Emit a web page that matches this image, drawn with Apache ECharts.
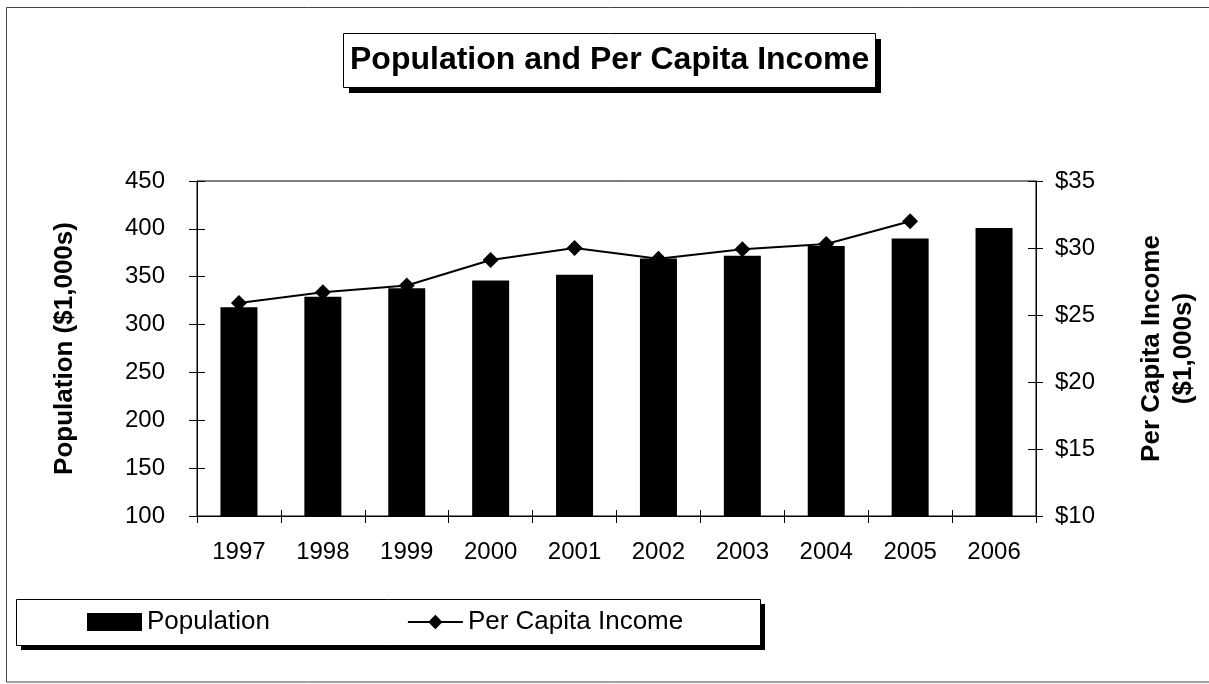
<!DOCTYPE html>
<html>
<head>
<meta charset="utf-8">
<script src="https://cdn.jsdelivr.net/npm/echarts@6/dist/echarts.min.js"></script>
<style>
html,body{margin:0;padding:0;background:#fff;}
#chart{width:1209px;height:684px;}
</style>
</head>
<body>
<div id="chart"></div>
<script>
var years = ['1997','1998','1999','2000','2001','2002','2003','2004','2005','2006'];
var population = [318, 329, 338, 346, 352, 369, 372, 382, 390, 401];
var perCapitaIncome = [25.9, 26.7, 27.2, 29.1, 30.0, 29.2, 29.9, 30.3, 32.0, null];
var leftTicks = {min: 100, max: 450, interval: 50};
var rightTicks = {min: 10, max: 35, interval: 5};

var FONT = '"Liberation Sans", Arial, sans-serif';
var chart = echarts.init(document.getElementById('chart'));

function dupY(pos, t) {
  return {
    type: 'value', position: pos, min: t.min, max: t.max, interval: t.interval,
    axisLine: {show: false}, axisLabel: {show: false}, splitLine: {show: false},
    axisTick: {show: true, inside: true, length: 8, lineStyle: {color: '#000', width: 1}}
  };
}
function shadowBox(x, y, w, h, off) {
  return [{
    type: 'rect', silent: true, z: 0,
    shape: {x: x + off, y: y + off, width: w, height: h},
    style: {fill: '#000'}
  }, {
    type: 'rect', silent: true, z: 1,
    shape: {x: x + 0.5, y: y + 0.5, width: w, height: h},
    style: {fill: '#fff', stroke: '#000', lineWidth: 1}
  }];
}

chart.setOption({
  backgroundColor: '#fff',
  animation: false,
  graphic: [{
    type: 'rect', silent: true, z: -10,
    shape: {x: 6.5, y: 7.5, width: 1260, height: 674.5},
    style: {fill: 'none', stroke: '#444', lineWidth: 1}
  }].concat(shadowBox(343, 33, 532, 54, 6), shadowBox(16, 599, 744, 46, 5)),
  title: {
    text: 'Population and Per Capita Income',
    left: 343, top: 33,
    padding: [10, 7, 10, 7],
    textStyle: {fontFamily: FONT, fontSize: 32, fontWeight: 'bold', color: '#000', lineHeight: 34}
  },
  legend: {
    left: 16, top: 599,
    padding: [10, 70, 10, 71],
    itemGap: 137,
    itemWidth: 55, itemHeight: 18,
    textStyle: {fontFamily: FONT, fontSize: 26, color: '#000'},
    data: [{name: 'Population', icon: 'rect'}, {name: 'Per Capita Income'}]
  },
  grid: {
    left: 197, right: 173, top: 181, bottom: 168,
    show: true, borderColor: '#000', borderWidth: 1, backgroundColor: 'transparent'
  },
  xAxis: [{
    type: 'category', data: years, position: 'bottom',
    axisLine: {show: true, lineStyle: {color: '#000', width: 1}},
    axisTick: {show: true, interval: 0, length: 7, lineStyle: {color: '#000'}},
    axisLabel: {interval: 0, margin: 24, fontFamily: FONT, fontSize: 24, color: '#000'}
  }, {
    type: 'category', data: years, position: 'bottom',
    axisLine: {show: false}, axisLabel: {show: false, interval: 0},
    axisTick: {show: true, interval: 0, inside: true, length: 6, lineStyle: {color: '#000'}}
  }],
  yAxis: [{
    type: 'value', position: 'left', min: leftTicks.min, max: leftTicks.max, interval: leftTicks.interval,
    name: 'Population ($1,000s)', nameLocation: 'middle', nameGap: 119, nameRotate: 90,
    nameTextStyle: {fontFamily: FONT, fontSize: 26, fontWeight: 'bold', color: '#000'},
    axisLine: {show: true, lineStyle: {color: '#000', width: 1}},
    axisTick: {show: true, length: 8, lineStyle: {color: '#000'}},
    axisLabel: {margin: 32, fontFamily: FONT, fontSize: 24, color: '#000'},
    splitLine: {show: false}
  }, {
    type: 'value', position: 'right', min: rightTicks.min, max: rightTicks.max, interval: rightTicks.interval,
    name: 'Per Capita Income\n($1,000s)', nameLocation: 'middle', nameGap: 100, nameRotate: 90,
    nameTextStyle: {fontFamily: FONT, fontSize: 26, fontWeight: 'bold', color: '#000', lineHeight: 32},
    axisLine: {show: true, lineStyle: {color: '#000', width: 1}},
    axisTick: {show: true, length: 7, lineStyle: {color: '#000'}},
    axisLabel: {margin: 19, fontFamily: FONT, fontSize: 24, color: '#000', formatter: '${value}'},
    splitLine: {show: false}
  }, dupY('left', leftTicks), dupY('right', rightTicks)],
  series: [{
    name: 'Population', type: 'bar', xAxisIndex: 0, yAxisIndex: 0,
    data: population, barWidth: 37,
    itemStyle: {color: '#000'}
  }, {
    name: 'Per Capita Income', type: 'line', xAxisIndex: 0, yAxisIndex: 1,
    data: perCapitaIncome, symbol: 'diamond', symbolSize: 16,
    lineStyle: {color: '#000', width: 2}, itemStyle: {color: '#000'}
  }]
});
</script>
</body>
</html>
